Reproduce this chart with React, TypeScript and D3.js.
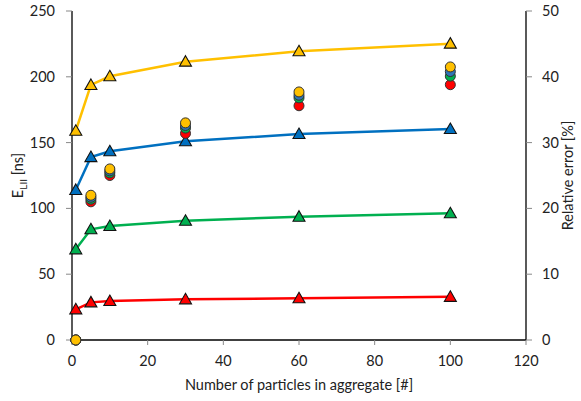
import React from "react";
import * as d3 from "d3";

const xValues = [1, 5, 10, 30, 60, 100];
const seriesNames = ["red", "green", "blue", "yellow"];
const lineColors = ["#FF0000", "#00B050", "#0070C0", "#FFC000"];
const circleColors = ["#FF0000", "#00B050", "#2E75B6", "#FFC000"];
// E_LII [ns] (left axis), triangles + lines
const eRed = [23.3, 28.6, 29.6, 30.9, 31.7, 32.8];
const eGreen = [68.9, 84.1, 86.6, 90.6, 93.7, 96.3];
const eBlue = [114, 139, 143.4, 151, 156.5, 160.3];
const eYellow = [159, 193.8, 200.4, 211.5, 219.4, 225.2];
// Relative error [%] (right axis), circles
const errRed = [0, 21.0, 25.0, 31.4, 35.6, 38.8];
const errGreen = [0, 21.4, 25.4, 32.2, 36.8, 40.1];
const errBlue = [0, 21.7, 25.7, 32.6, 37.2, 40.8];
const errYellow = [0, 22.0, 26.0, 33.0, 37.7, 41.5];

const xTicks = [0, 20, 40, 60, 80, 100, 120];
const yLeftTicks = [0, 50, 100, 150, 200, 250];
const yRightTicks = [0, 10, 20, 30, 40, 50];

const eSeries = [eRed, eGreen, eBlue, eYellow];
const errSeries = [errRed, errGreen, errBlue, errYellow];

export default function App() {
  const W = 581, H = 401;
  const left = 72, right = 526, top = 11, bottom = 340;
  const x = d3.scaleLinear().domain([0, 120]).range([left, right]);
  const yL = d3.scaleLinear().domain([0, 250]).range([bottom, top]);
  const yR = d3.scaleLinear().domain([0, 50]).range([bottom, top]);
  const line = d3.line<number>().x((_, i) => x(xValues[i])).y((d) => yL(d));
  const font = "Lato, 'Open Sans', sans-serif";
  const tri = (cx: number, cy: number) => {
    const s = 5.5;
    return `M${cx},${cy - s - 0.5} L${cx + s + 0.5},${cy + s - 1} L${cx - s - 0.5},${cy + s - 1} Z`;
  };
  return (
    <svg width={W} height={H} style={{ position: "absolute", left: 0, top: 0, fontFamily: font }}>
      <rect width={W} height={H} fill="#fff" />
      {/* axes */}
      <line x1={left} x2={right} y1={bottom} y2={bottom} stroke="#000" strokeWidth={1.3} />
      <line x1={left} x2={left} y1={top} y2={bottom} stroke="#000" strokeWidth={1.3} />
      <line x1={right} x2={right} y1={top} y2={bottom} stroke="#000" strokeWidth={1.3} />
      {xTicks.map((t) => (
        <g key={"x" + t}>
          <line x1={x(t)} x2={x(t)} y1={bottom} y2={bottom + 5} stroke="#888" strokeWidth={1} />
          <text x={x(t)} y={bottom + 26} textAnchor="middle" fontSize={14.5} fill="#222">{t}</text>
        </g>
      ))}
      {yLeftTicks.map((t) => (
        <g key={"yl" + t}>
          <line x1={left - 6} x2={left} y1={yL(t)} y2={yL(t)} stroke="#888" strokeWidth={1} />
          <text x={left - 17} y={yL(t) + 5} textAnchor="end" fontSize={14.5} fill="#222">{t}</text>
        </g>
      ))}
      {yRightTicks.map((t) => (
        <g key={"yr" + t}>
          <line x1={right} x2={right + 6} y1={yR(t)} y2={yR(t)} stroke="#888" strokeWidth={1} />
          <text x={right + 16} y={yR(t) + 5} textAnchor="start" fontSize={14.5} fill="#222">{t}</text>
        </g>
      ))}
      <text x={(left + right) / 2 + 0} y={390} textAnchor="middle" fontSize={14.5} fill="#222">
        Number of particles in aggregate [#]
      </text>
      <text transform={`translate(23,${(top + bottom) / 2}) rotate(-90)`} textAnchor="middle" fontSize={14.5} fill="#222">
        E<tspan fontSize={10} dy={4}>LII</tspan><tspan dy={-4}> [ns]</tspan>
      </text>
      <text transform={`translate(573,${(top + bottom) / 2}) rotate(-90)`} textAnchor="middle" fontSize={14.5} fill="#222">
        Relative error [%]
      </text>
      {/* lines with triangles */}
      {eSeries.map((s, k) => (
        <g key={"l" + k}>
          <path d={line(s) || ""} fill="none" stroke={lineColors[k]} strokeWidth={2.5} />
          {s.map((v, i) => (
            <path key={i} d={tri(x(xValues[i]), yL(v))} fill={lineColors[k]} stroke="#111" strokeWidth={1.1} />
          ))}
        </g>
      ))}
      {/* circles */}
      {errSeries.map((s, k) => (
        <g key={"c" + k}>
          {s.map((v, i) => (
            <circle key={i} cx={x(xValues[i])} cy={yR(v)} r={5} fill={circleColors[k]} stroke="#333" strokeWidth={1} />
          ))}
        </g>
      ))}
    </svg>
  );
}
